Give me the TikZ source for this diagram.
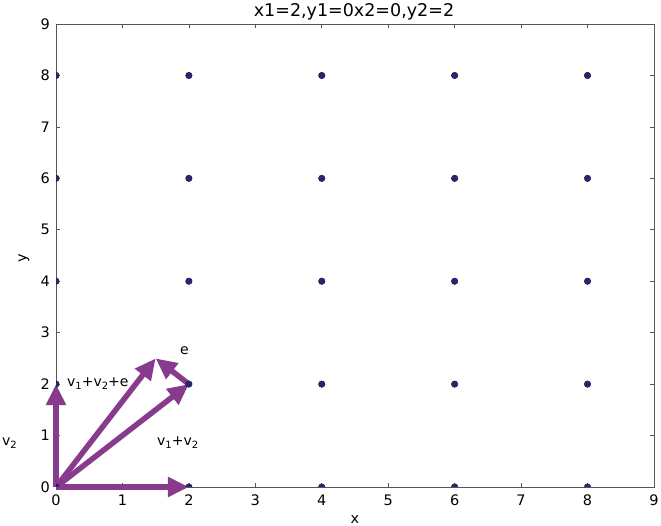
\documentclass[tikz,border=0pt]{standalone}
\usepackage{fontspec}
\setmainfont{DejaVu Sans}
\usetikzlibrary{arrows.meta}
\definecolor{vecpurple}{RGB}{136,58,140}
\definecolor{dotnavy}{RGB}{38,38,115}
\definecolor{axisgray}{RGB}{85,85,85}
\newcommand\lowsub[1]{\raisebox{-0.35ex}{\fontsize{10}{12}\selectfont #1}}
\begin{document}
\begin{tikzpicture}[x=66.44pt,y=51.44pt,
  vec/.style={vecpurple, line width=5.5pt, -{Triangle[width=19pt,length=21pt]}},
  dot/.style={circle, fill=dotnavy, draw=dotnavy!70!black, line width=0.5pt, inner sep=0pt, minimum size=6.5pt},
  ticklbl/.style={font=\fontsize{14.5}{17}\selectfont, inner sep=0pt},
  lbl/.style={font=\fontsize{14}{17}\selectfont, inner sep=0pt, anchor=base west},
  tickmark/.style={axisgray, line width=0.6pt}]
\useasboundingbox (-56pt,-39pt) rectangle (605pt,487pt);
\clip (-56pt,-39pt) rectangle (605pt,487pt);
\fill[white] (-56pt,-39pt) rectangle (605pt,487pt);
% ticks
\foreach \i in {1,...,8} {
  \draw[tickmark] (\i,0) -- ++(0,4pt);
  \draw[tickmark] (\i,9) -- ++(0,-4pt);
  \draw[tickmark] (0,\i) -- ++(4pt,0);
  \draw[tickmark] (9,\i) -- ++(-4pt,0);
}
% tick labels
\foreach \i in {0,...,9} {
  \node[ticklbl, anchor=base] (xt\i) at ([yshift=-19pt]\i,0) {\i};
  \node[ticklbl, anchor=base east] (yt\i) at ([xshift=-6pt,yshift=-5.2pt]0,\i) {\i};
}
% frame
\draw[axisgray, line width=0.9pt] (0,0) rectangle (9,9);
% title and axis labels
\node[font=\fontsize{17.5}{20}\selectfont, anchor=base, inner sep=0pt] (title) at (298pt,470pt) {x1=2,y1=0x2=0,y2=2};
\node[ticklbl, anchor=base] (xlab) at ([yshift=-36.5pt]4.5,0) {x};
\node[ticklbl, rotate=90] (ylab) at (-32pt,229pt) {y};
% vectors
\coordinate (O) at (0,0);
\coordinate (P1) at (2,0);
\coordinate (P2) at (0,2);
\coordinate (S) at (2,2);
\coordinate (T) at (1.5,2.5);
\draw[vec] (O) -- (P1);
\draw[vec] (O) -- (P2);
\draw[vec] (O) -- (S);
\draw[vec] (S) -- (T);
\draw[vec] (O) -- (T);
% dots
\begin{scope}
\clip (0,0) rectangle (9,9);
\foreach \i in {0,2,...,8}
  \foreach \j in {0,2,...,8}
    \node[dot] (d\i\j) at (\i,\j) {};
\end{scope}
% labels
\node[lbl] (lsum) at (11pt,100pt) {v\lowsub{1}+v\lowsub{2}+e};
\node[lbl] (lv2) at (-54pt,41pt) {v\lowsub{2}};
\node[lbl] (lv12) at (101pt,41pt) {v\lowsub{1}+v\lowsub{2}};
\node[lbl] (le) at (124pt,132pt) {e};
\end{tikzpicture}
\end{document}
